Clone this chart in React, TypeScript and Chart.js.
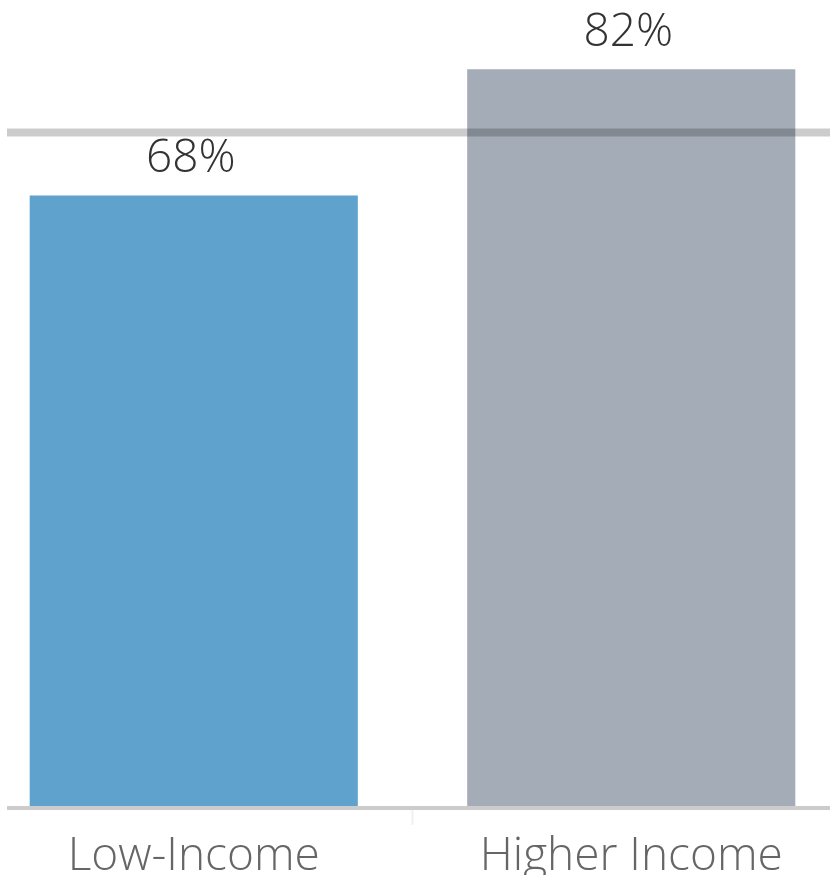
import React, { useEffect, useRef } from "react";
import { Chart, registerables } from "chart.js";

Chart.register(...registerables);

const categories = ["Low-Income", "Higher Income"];
const values = [68, 82];
const barColors = ["#5ea2cd", "#a3acb7"];
const referenceValue = 75;
const yMax = 89.7;

const FONT = "'Open Sans', 'DejaVu Sans', sans-serif";

const overlayPlugin = {
  id: "overlay",
  afterDatasetsDraw(chart: any) {
    const ctx = chart.ctx as CanvasRenderingContext2D;
    const xs = chart.scales.x;
    const ys = chart.scales.y;
    const left = 32;
    const right = chart.width;
    ctx.save();
    // baseline
    const y0 = ys.getPixelForValue(0);
    ctx.strokeStyle = "#cccccc";
    ctx.lineWidth = 4;
    ctx.beginPath();
    ctx.moveTo(left, y0);
    ctx.lineTo(right, y0);
    ctx.stroke();
    // small separator tick
    const mid = (xs.getPixelForValue(0) + xs.getPixelForValue(1)) / 2;
    ctx.strokeStyle = "#f0f0f0";
    ctx.lineWidth = 2;
    ctx.beginPath();
    ctx.moveTo(mid, y0 + 2);
    ctx.lineTo(mid, y0 + 17);
    ctx.stroke();
    // reference line
    const yr = ys.getPixelForValue(referenceValue);
    ctx.strokeStyle = "rgba(0,0,0,0.2)";
    ctx.lineWidth = 8;
    ctx.beginPath();
    ctx.moveTo(left, yr);
    ctx.lineTo(right, yr);
    ctx.stroke();
    // data labels
    const meta = chart.getDatasetMeta(0);
    ctx.fillStyle = "#333333";
    ctx.font = `300 46px ${FONT}`;
    ctx.textAlign = "center";
    ctx.textBaseline = "alphabetic";
    meta.data.forEach((bar: any, i: number) => {
      ctx.fillText(values[i] + "%", bar.x - 3, bar.y - 23);
    });
    ctx.restore();
  },
};

export default function App() {
  const ref = useRef<HTMLCanvasElement | null>(null);
  useEffect(() => {
    if (!ref.current) return;
    const chart = new Chart(ref.current, {
      type: "bar",
      data: {
        labels: categories,
        datasets: [
          {
            data: values,
            backgroundColor: barColors,
            borderWidth: 0,
            categoryPercentage: 1,
            barPercentage: 0.75,
          },
        ],
      },
      options: {
        animation: false,
        responsive: false,
        maintainAspectRatio: false,
        layout: { padding: 0 },
        plugins: {
          legend: { display: false },
          tooltip: { enabled: false },
          title: { display: false },
        },
        scales: {
          x: {
            type: "category",
            grid: { display: false, drawTicks: false },
            border: { display: false },
            ticks: {
              color: "#666666",
              padding: 21,
              font: { family: FONT, size: 46, weight: 300 },
            },
            afterFit(scale: any) {
              scale.height = 67;
            },
          },
          y: {
            display: false,
            min: 0,
            max: yMax,
          },
        },
      },
      plugins: [overlayPlugin],
    });
    return () => chart.destroy();
  }, []);
  return (
    <div
      style={{
        position: "absolute",
        left: 0,
        top: 0,
        width: 830,
        height: 875,
        overflow: "hidden",
        background: "#ffffff",
      }}
    >
      <div style={{ position: "absolute", left: -25, top: 0, width: 875, height: 875 }}>
        <canvas ref={ref} width={875} height={875} />
      </div>
    </div>
  );
}
